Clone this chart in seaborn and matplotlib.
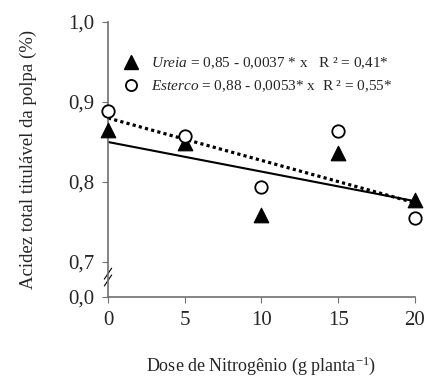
import matplotlib
matplotlib.use("Agg")
import matplotlib.pyplot as plt
import seaborn as sns
import numpy as np
import pandas as pd
from matplotlib.lines import Line2D

# data
doses = [0, 5, 10, 15, 20]
ureia = [0.865, 0.849, 0.759, 0.836, 0.778]
esterco = [0.889, 0.857, 0.794, 0.864, 0.755]

# fitted equations (intercept, slope) as printed on the chart
ureia_fit = (0.85, -0.0037)
esterco_fit = (0.88, -0.0053)

ytick_vals = [0.65625, 0.7, 0.8, 0.9, 1.0]
ytick_labels = ["0,0", "0,7", "0,8", "0,9", "1,0"]
xtick_vals = [0, 5, 10, 15, 20]

sns.set_style("ticks")
plt.rcParams['font.family'] = ['Liberation Serif', 'DejaVu Serif']
plt.rcParams['mathtext.fontset'] = 'custom'
plt.rcParams['mathtext.rm'] = 'Liberation Serif'
plt.rcParams['mathtext.it'] = 'Liberation Serif:italic'

df = pd.DataFrame({"dose": doses, "ureia": ureia, "esterco": esterco})

fig = plt.figure(figsize=(4.27, 3.82), dpi=100)
ax = fig.add_axes([108/427, 85/382, 307/427, 275/382])

# regression lines
xs = np.array([doses[0], doses[-1]])
sns.lineplot(x=xs, y=ureia_fit[0] + ureia_fit[1]*xs, ax=ax, color="black", lw=1.5)
sns.lineplot(x=xs, y=esterco_fit[0] + esterco_fit[1]*xs, ax=ax, color="black",
             lw=2.3, linestyle=(0, (1, 1)))

sns.scatterplot(data=df, x="dose", y="ureia", marker="^", s=110, color="black",
                edgecolor="black", ax=ax, zorder=3, clip_on=False)
sns.scatterplot(data=df, x="dose", y="esterco", marker="o", s=80, facecolor="white",
                edgecolor="black", linewidth=1.3, ax=ax, zorder=4, clip_on=False)

ax.set_xlim(0, 20)
ax.set_ylim(ytick_vals[0], 1.0)
ax.set_xticks(xtick_vals)
ax.set_yticks(ytick_vals)
ax.set_yticklabels(ytick_labels)
ax.tick_params(labelsize=15, length=4, color="#707070", pad=6)
for s in ["top", "right"]:
    ax.spines[s].set_visible(False)
for s in ["left", "bottom"]:
    ax.spines[s].set_color("#707070")
    ax.spines[s].set_linewidth(1.2)

ax.set_xlabel("Dose de Nitrogênio (g planta$^{-1}$)", fontsize=13, labelpad=18)
ax.set_ylabel("Acidez total titulável da polpa (%)", fontsize=13.5, labelpad=22)

# axis break marks
for dy in (0.0, 0.025):
    ax.plot([-0.012, 0.012], [0.04 + dy, 0.08 + dy], transform=ax.transAxes,
            color="black", lw=0.8, clip_on=False)

handles = [
    Line2D([], [], marker="^", color="black", ls="none", markersize=10),
    Line2D([], [], marker="o", markerfacecolor="white", markeredgecolor="black",
           markeredgewidth=1.3, ls="none", markersize=8),
]
labels = [
    r"$\mathit{Ureia}$ = 0,85 - 0,0037 * x   R ² = 0,41*",
    r"$\mathit{Esterco}$ = 0,88 - 0,0053* x  R ² = 0,55*",
]
ax.legend(handles, labels, loc="upper left", bbox_to_anchor=(0.005, 0.90),
          frameon=False, fontsize=11, handletextpad=0.3, labelspacing=0.5,
          borderaxespad=0)

fig.savefig("out.png", dpi=100)
